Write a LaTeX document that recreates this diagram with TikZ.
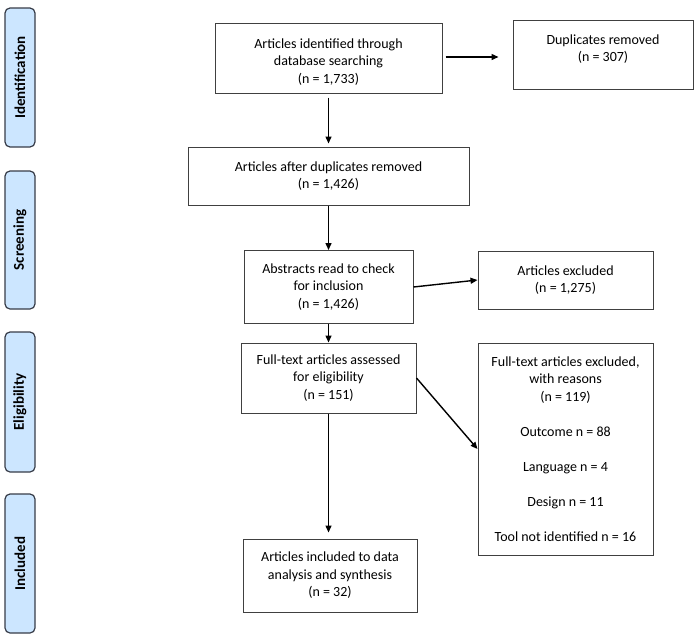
\documentclass[tikz,border=0pt]{standalone}
\usepackage{fontspec}
\setmainfont{Carlito}
\usepackage{tikz}
\usetikzlibrary{calc}
\usetikzlibrary{arrows.meta}
\usetikzlibrary{positioning}
\definecolor{paleblue}{RGB}{204, 230, 255}
\definecolor{slateline}{RGB}{55, 60, 72}
\definecolor{boxline}{RGB}{64, 64, 64}

\tikzset{
    stagebox/.style={draw=slateline, fill=paleblue, line width=1.2pt, rounded corners=5pt, rotate=90,
                     minimum height=30pt, inner sep=0pt, font=\fontsize{15}{18}\selectfont\bfseries},
    flowbox/.style={draw=boxline, line width=1pt, align=center, inner sep=0pt,
                    font=\fontsize{14}{17.5}\selectfont},
    flowarrow/.style={-{Triangle[length=7pt,width=6pt]}, line width=1.4pt, black},
}

\begin{document}
\begin{tikzpicture}[x=1pt, y=-1pt]
            % Frame to fix the page size
            \useasboundingbox (0, 0) rectangle (698, 637);
            % Stage labels
            \node[stagebox, minimum width=139pt] (ident)  at ( 20.0,  77.5) {Identification};
            \node[stagebox, minimum width=138pt] (screen) at ( 20.0, 240.0) {Screening};
            \node[stagebox, minimum width=140pt] (elig)   at ( 20.0, 402.0) {Eligibility};
            \node[stagebox, minimum width=139pt] (incl)   at ( 20.0, 563.5) {Included};
            % Main flow
            \node[flowbox, minimum width=227pt, minimum height=70pt] (found)    at (328.5,  58.0)
                 {\rule{0pt}{17pt}Articles identified through\\database searching\\(n = 1,733)};
            \node[flowbox, minimum width=281pt, minimum height=58pt] (dedup)    at (328.5, 176.0)
                 {Articles after duplicates removed\\(n = 1,426)};
            \node[flowbox, minimum width=169pt, minimum height=73pt] (abstract) at (328.5, 287.0)
                 {Abstracts read to check\\for inclusion\\(n = 1,426)};
            \node[flowbox, minimum width=175pt, minimum height=70pt] (fulltext) at (328.5, 378.0)
                 {Full-text articles assessed\\for eligibility\\(n = 151)};
            \node[flowbox, minimum width=174pt, minimum height=73pt] (synth)    at (330.0, 575.5)
                 {Articles included to data\\analysis and synthesis\\(n = 32)};
            % Side boxes
            \node[flowbox, minimum width=180pt, minimum height=69pt] (dupl)     at (603.0,  54.5)
                 {Duplicates removed\\(n = 307)\\[-4.5pt]\mbox{}};
            \node[flowbox, minimum width=175pt, minimum height=58pt] (absexcl)  at (565.5, 280.0)
                 {Articles excluded\\(n = 1,275)};
            \node[flowbox, minimum width=175pt, minimum height=212pt] (fullexcl) at (565.5, 449.0)
                 {Full-text articles excluded,\\with reasons\\(n = 119)\\[17.5pt]
                  Outcome n = 88\\[17.5pt]Language n = 4\\[17.5pt]Design n = 11\\[17.5pt]
                  Tool not identified n = 16};
            % Arrows
            \draw[flowarrow, shorten <=4pt, shorten >=3pt] (found) -- (dedup);
            \draw[flowarrow] (dedup) -- (abstract);
            \draw[flowarrow] (abstract) -- (fulltext);
            \draw[flowarrow, shorten >=6pt] (fulltext) -- (synth.north -| fulltext.south);
            \draw[flowarrow, shorten <=3pt, shorten >=14pt] (found.east |- 0, 57) -- (dupl.west |- 0, 57);
            \draw[flowarrow] (abstract.east) -- (absexcl.west);
            \draw[flowarrow] (fulltext.east) -- (fullexcl.west);
\end{tikzpicture}
\end{document}
